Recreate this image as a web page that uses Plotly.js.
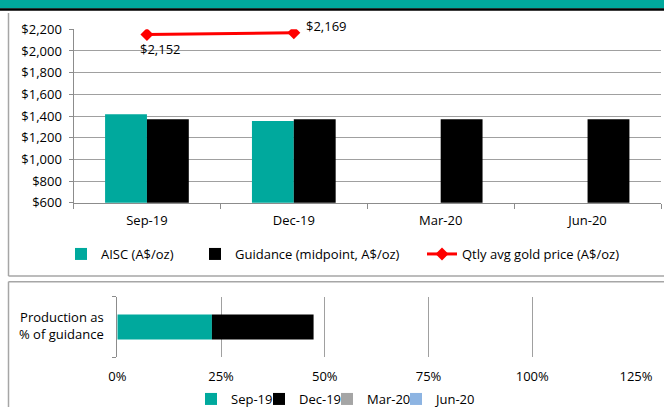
<!DOCTYPE html>
<html>
<head>
<meta charset="utf-8">
<script src="https://cdn.plot.ly/plotly-3.0.1.min.js"></script>
<style>html,body{margin:0;padding:0;background:#fff;}#chart{width:664px;height:407px;}</style>
</head>
<body>
<div id="chart"></div>
<script>
// ---- data ----
var quarters = ['Sep-19', 'Dec-19', 'Mar-20', 'Jun-20'];
var aisc = [1416, 1355, null, null];
var guidance = [1370, 1370, 1370, 1370];
var goldPrice = [2152, 2169, null, null];
var prodLabel = ['Production as<br>% of guidance'];
var prodSep19 = [0.228];
var prodDec19 = [0.245];
var prodMar20 = [null];
var prodJun20 = [null];
var yTickVals = [600, 800, 1000, 1200, 1400, 1600, 1800, 2000, 2200];
var yTickText = yTickVals.map(function (v) { return '$' + v.toLocaleString('en-US'); });

var TEAL = '#00A99D', GRID = '#a0a0a0', AXIS = '#8c8c8c';
var FONT = {family: 'Open Sans, Noto Sans, sans-serif', size: 13, color: '#000'};
var W = 664, H = 407;
function px(x) { return x / W; }
function py(y) { return 1 - y / H; }

var traces = [
  {type: 'bar', name: 'AISC (A$/oz)', x: quarters, y: aisc, marker: {color: TEAL, line: {width: 0}},
   xaxis: 'x', yaxis: 'y', legend: 'legend'},
  {type: 'bar', name: 'Guidance (midpoint, A$/oz)', x: quarters, y: guidance, marker: {color: '#000', line: {width: 0}},
   xaxis: 'x', yaxis: 'y', legend: 'legend2'},
  {type: 'scatter', mode: 'lines+markers', name: 'Qtly avg gold price (A$/oz)', x: quarters, y: goldPrice,
   line: {color: '#FF0000', width: 3}, marker: {symbol: 'diamond', size: 10, color: '#FF0000'},
   xaxis: 'x', yaxis: 'y', legend: 'legend3'},
  {type: 'bar', orientation: 'h', name: 'Sep-19', x: prodSep19, y: prodLabel, width: 0.41, offset: -0.205,
   marker: {color: TEAL, line: {width: 0}}, xaxis: 'x2', yaxis: 'y2', legend: 'legend4'},
  {type: 'bar', orientation: 'h', name: 'Dec-19', x: prodDec19, y: prodLabel, base: prodSep19, width: 0.41, offset: -0.205,
   marker: {color: '#000', line: {width: 0}}, xaxis: 'x2', yaxis: 'y2', legend: 'legend5'},
  {type: 'bar', orientation: 'h', name: 'Mar-20', x: prodMar20, y: prodLabel, width: 0.41, offset: -0.205,
   marker: {color: '#A5A5A5', line: {width: 0}}, xaxis: 'x2', yaxis: 'y2', legend: 'legend6'},
  {type: 'bar', orientation: 'h', name: 'Jun-20', x: prodJun20, y: prodLabel, width: 0.41, offset: -0.205,
   marker: {color: '#8DB4E2', line: {width: 0}}, xaxis: 'x2', yaxis: 'y2', legend: 'legend7'}
];

var labelShift = [[14, -14], [33, 7]];
var annotations = [];
goldPrice.forEach(function (v, i) {
  if (v === null) return;
  annotations.push({x: quarters[i], y: v, xref: 'x', yref: 'y', showarrow: false,
    text: '$' + v.toLocaleString('en-US'), font: FONT, xshift: labelShift[i][0], yshift: labelShift[i][1]});
});

function legendCfg(x, y) {
  return {x: x, y: y, xanchor: 'left', yanchor: 'middle', orientation: 'h', font: FONT, visible: true,
          bgcolor: 'rgba(0,0,0,0)', borderwidth: 0, itemclick: false, itemdoubleclick: false};
}
var topLegY = py(254), botLegY = py(399);

var layout = {
  width: W, height: H, autosize: false,
  margin: {l: 0, r: 0, t: 0, b: 0, pad: 0, autoexpand: false},
  paper_bgcolor: '#fff', plot_bgcolor: 'rgba(0,0,0,0)',
  font: FONT, barmode: 'group', bargap: 0.43, bargroupgap: 0,
  hovermode: false, showlegend: true,
  xaxis: {domain: [px(73.5), px(661)], anchor: 'y', type: 'category', categoryorder: 'array', categoryarray: quarters,
          showline: true, linecolor: AXIS, linewidth: 1, ticks: 'outside', tickson: 'boundaries', ticklen: 5,
          tickcolor: AXIS, showgrid: false, tickfont: FONT, ticklabelstandoff: 6, fixedrange: true},
  yaxis: {domain: [py(202.7), py(29.3)], anchor: 'x', range: [600, 2200], tickmode: 'array',
          tickvals: yTickVals, ticktext: yTickText,
          showline: true, linecolor: AXIS, ticks: 'outside', ticklen: 4, ticklabelstandoff: 4,
          tickcolor: AXIS, showgrid: true, gridcolor: GRID, gridwidth: 1, zeroline: false, tickfont: FONT, fixedrange: true},
  xaxis2: {domain: [px(117.3), px(636)], anchor: 'y2', range: [0, 1.25], dtick: 0.25, tick0: 0, tickformat: '.0%',
           showline: false, ticks: '', showgrid: true, gridcolor: GRID, zeroline: false, tickfont: FONT,
           ticklabelstandoff: 10, fixedrange: true},
  yaxis2: {domain: [py(357.3), py(296.7)], anchor: 'x2', type: 'category', range: [-0.5, 0.5],
           showline: true, linecolor: AXIS, ticks: 'outside', tickson: 'boundaries', ticklen: 4, tickcolor: AXIS,
           showgrid: false, zeroline: false, tickfont: FONT, ticklabelstandoff: 10, ticklabelshift: -1, fixedrange: true},
  legend: legendCfg(px(61), topLegY),
  legend2: legendCfg(px(195), topLegY),
  legend3: legendCfg(px(422), topLegY),
  legend4: legendCfg(px(191), botLegY),
  legend5: legendCfg(px(259), botLegY),
  legend6: legendCfg(px(327), botLegY),
  legend7: legendCfg(px(396), botLegY),
  annotations: annotations,
  shapes: [
    {type: 'rect', xref: 'paper', yref: 'paper', x0: 0, x1: 1, y0: py(8.5), y1: 1, fillcolor: TEAL, line: {width: 0}, layer: 'below'},
    {type: 'line', xref: 'paper', yref: 'paper', x0: 0, x1: 1, y0: py(9.5), y1: py(9.5), line: {color: '#000', width: 2.5}},
    {type: 'line', xref: 'paper', yref: 'paper', x0: px(8.5), x1: px(8.5), y0: py(13), y1: py(276), line: {color: '#a6a6a6', width: 1.5}},
    {type: 'line', xref: 'paper', yref: 'paper', x0: px(8.5), x1: 1, y0: py(276), y1: py(276), line: {color: '#a6a6a6', width: 1.5}},
    {type: 'line', xref: 'paper', yref: 'paper', x0: px(8.5), x1: 1, y0: py(281.7), y1: py(281.7), line: {color: '#a6a6a6', width: 1.5}},
    {type: 'line', xref: 'paper', yref: 'paper', x0: px(8.5), x1: px(8.5), y0: py(281.7), y1: 0, line: {color: '#a6a6a6', width: 1.5}}
  ]
};

Plotly.newPlot('chart', traces, layout, {staticPlot: true, displayModeBar: false});
</script>
</body>
</html>
